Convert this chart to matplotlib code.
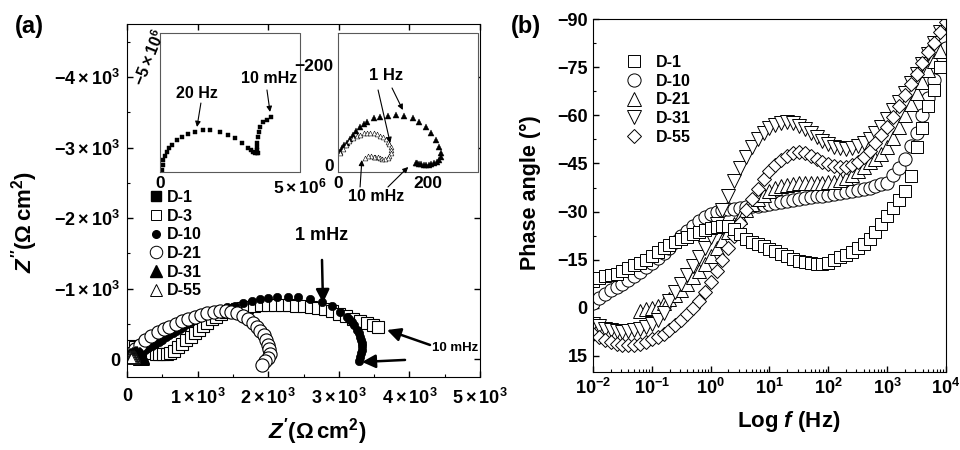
import numpy as np
import matplotlib
matplotlib.use('Agg')
import matplotlib.pyplot as plt
from matplotlib.lines import Line2D
from matplotlib.ticker import MultipleLocator, LogLocator, NullFormatter

plt.rcParams['font.family'] = ['Liberation Sans', 'DejaVu Sans']
plt.rcParams['font.weight'] = 'bold'
plt.rcParams['mathtext.fontset'] = 'custom'
plt.rcParams['mathtext.rm'] = 'Liberation Sans:weight=bold'
plt.rcParams['mathtext.bf'] = 'Liberation Sans:weight=bold'
plt.rcParams['mathtext.it'] = 'Liberation Sans:style=italic:weight=bold'
plt.rcParams['mathtext.default'] = 'rm'

# ---------------- panel (a): Nyquist data (Z', Z'' in ohm cm2) ----------------
d3_zr = [60, 110, 160, 210, 260, 310, 360, 410, 460, 510, 560, 610, 660,
         720, 780, 840, 900, 960, 1020, 1080, 1140, 1200, 1260, 1330, 1400,
         1480, 1560, 1640, 1700, 1800, 1900, 2000, 2100, 2200, 2300, 2400,
         2500, 2600, 2700, 2800, 2900, 3000, 3100, 3200, 3300, 3400, 3480, 3555]
d3_zi = [-190, -170, -150, -130, -115, -100, -90, -80, -75, -75, -80, -95, -120,
         -170, -220, -270, -320, -370, -420, -470, -520, -565, -605, -640, -670,
         -695, -712, -725, -745, -757, -763, -766, -767, -766, -764, -760,
         -754, -745, -733, -712, -680, -645, -610, -578, -545, -510, -480, -455]

d10_zr = [150, 200, 250, 300, 350, 400, 450, 500, 550, 600, 650, 700, 750, 800,
          850, 900, 950, 1000, 1050, 1100, 1160, 1230, 1300, 1416, 1530, 1643,
          1770, 1884, 1997, 2125, 2280, 2422, 2592, 2762, 2904, 3017, 3116,
          3150, 3187, 3220, 3258, 3280, 3300, 3315, 3329, 3335, 3329, 3320,
          3300, 3290]
d10_zi = [-60, -95, -130, -160, -190, -220, -250, -280, -310, -345, -375, -405,
          -435, -465, -495, -525, -560, -590, -625, -655, -680, -705, -720, -735,
          -760, -799, -827, -855, -872, -880, -884, -880, -855, -813, -756, -671,
          -601, -570, -530, -480, -416, -370, -317, -275, -232, -185, -133, -85,
          -34, 25]

d21_zr = [60, 120, 180, 255, 340, 439, 520, 600, 690, 780, 870, 960, 1050, 1140,
          1230, 1320, 1400, 1480, 1560, 1640, 1710, 1780, 1840, 1890, 1940, 1975,
          2000, 2015, 2020, 2000, 1960, 1910]
d21_zi = [-90, -150, -200, -270, -330, -385, -430, -465, -505, -540, -570, -598,
          -625, -650, -668, -680, -685, -675, -650, -615, -570, -520, -465, -405,
          -340, -275, -210, -145, -80, -20, 30, 75]

d31_zr = [4, 8, 13, 20, 27, 34, 41, 49, 57, 65, 79, 94, 110, 128, 146, 166, 180,
          196, 207, 218, 225, 229, 228, 225, 219, 213, 207, 202, 196, 191, 185,
          180, 176, 173]
d31_zi = [-26, -33, -39, -44, -52, -60, -68, -76, -81, -86, -94, -96, -98, -100,
          -98, -94, -86, -76, -64, -50, -36, -24, -16, -10, -6, -4, -2, 0, 0, 0,
          -1, -2, -3, -4]

d55_zr = [4, 10, 17, 25, 34, 42, 49, 57, 65, 72, 80, 87, 94, 101, 106, 110, 114,
          117, 118, 117, 114, 110, 104, 98, 94, 88, 82, 79, 73, 67, 61]
d55_zi = [-24, -32, -40, -47, -53, -57, -60, -63, -64, -64, -63, -61, -58, -55,
          -51, -46, -41, -36, -30, -24, -18, -14, -12, -12, -14, -15, -15, -16,
          -17, -17, -14]

# D-1 (inset, in 1e6 ohm cm2)
d1_zr = [0.07, 0.09, 0.11, 0.17, 0.25, 0.33, 0.43, 0.60, 0.78, 1.00, 1.25, 1.54,
         1.79, 2.14, 2.43, 2.68, 2.93, 3.14, 3.25, 3.32, 3.40, 3.46, 3.50, 3.48,
         3.46, 3.48, 3.50, 3.53, 3.57, 3.68, 3.82, 3.96]
d1_zi = [-0.07, -0.25, -0.43, -0.58, -0.72, -0.85, -0.97, -1.15, -1.26, -1.37,
         -1.44, -1.51, -1.51, -1.44, -1.33, -1.22, -1.04, -0.86, -0.78, -0.72,
         -0.69, -0.68, -0.68, -0.78, -0.90, -1.05, -1.26, -1.45, -1.62, -1.80,
         -1.87, -1.98]

# ---------------- panel (b): Bode phase data ----------------
log_f = [-2.0, -1.9, -1.8, -1.7, -1.6, -1.5, -1.4, -1.3, -1.2, -1.1,
         -1.0, -0.9, -0.8, -0.7, -0.6, -0.5, -0.4, -0.3, -0.2, -0.1,
         0.0, 0.1, 0.2, 0.3, 0.4, 0.5, 0.6, 0.7, 0.8, 0.9,
         1.0, 1.1, 1.2, 1.3, 1.4, 1.5, 1.6, 1.7, 1.8, 1.9,
         2.0, 2.1, 2.2, 2.3, 2.4, 2.5, 2.6, 2.7, 2.8, 2.9,
         3.0, 3.1, 3.2, 3.3, 3.4, 3.5, 3.6, 3.7, 3.8, 3.9, 4.0]

ph_d1 = [-8.5, -9.3, -9.8, -10.2, -10.7, -11.5, -12.4, -13.2, -14.0, -15.0,
         -16.2, -17.3, -18.5, -19.5, -20.4, -21.3, -22.2, -23.0, -23.7, -24.3,
         -25.0, -25.3, -25.6, -25.4, -24.5, -23.0, -21.6, -20.6, -19.8, -19.2,
         -18.4, -17.6, -16.8, -16.0, -15.3, -14.7, -14.2, -13.9, -13.7, -13.8,
         -14.1, -14.8, -15.7, -16.5, -17.5, -18.5, -20.0, -21.5, -23.5, -26.0,
         -28.5, -31.0, -33.5, -36.5, -41.0, -50.0, -56.0, -63.0, -68.0, -75.0]
ph_d10 = [-1.5, -3.0, -4.3, -5.5, -6.5, -7.5, -8.7, -10.0, -11.2, -12.6,
          -14.0, -15.5, -17.0, -18.8, -20.5, -22.3, -24.0, -25.5, -27.0, -28.3,
          -29.3, -30.0, -30.4, -30.7, -30.9, -31.1, -31.3, -31.6, -31.8, -32.1,
          -32.3, -32.6, -32.9, -33.2, -33.5, -33.8, -34.1, -34.4, -34.7, -35.0,
          -35.3, -35.6, -35.9, -36.2, -36.5, -36.8, -37.1, -37.5, -38.0, -38.5,
          -39.0, -41.5, -43.5, -46.5, -50.5, -54.5, -60.0, -65.5, -71.0, -77.0,
          -81.0]
ph_d21 = [1.0, 0.5, 0.0, -0.7, -1.5, -2.7, -4.0, -5.7, -7.5, -9.5,
          -11.5, -13.7, -16.0, -18.5, -21.0, -23.5, -26.0, -28.3, -30.5, -32.3,
          -34.0, -35.3, -36.5, -37.3, -38.0, -38.4, -38.7, -38.9, -39.0, -39.0,
          -39.0, -39.0, -39.1, -39.3, -39.7, -40.4, -41.4, -42.6, -44.0, -45.3,
          -46.5, -48.0, -50.0, -53.0, -56.5, -60.0, -63.5, -67.0, -70.5, -74.0,
          -77.0, -80.0]
ph_d31 = [5.0, 5.8, 6.5, 7.0, 7.3, 7.4, 7.3, 7.0, 6.6, 6.0,
          5.0, 3.8, 1.5, -2.0, -4.8, -7.5, -10.3, -13.0, -15.8, -18.8,
          -22.0, -26.0, -30.5, -35.0, -39.5, -43.5, -47.0, -50.0, -52.5, -54.5,
          -56.0, -57.0, -57.6, -57.8, -57.5, -56.8, -55.8, -54.6, -53.3, -52.0,
          -51.0, -50.2, -49.7, -49.5, -49.7, -50.3, -51.3, -52.7, -54.5, -56.5,
          -59.0, -61.5, -64.0, -67.0, -70.0, -73.0, -76.0, -79.0, -82.5, -86.0,
          -89.5]
ph_d55 = [8.0, 9.0, 10.0, 10.8, 11.3, 11.6, 11.7, 11.6, 11.2, 10.6,
          9.8, 9.0, 8.0, 6.8, 5.5, 3.8, 2.0, 0.0, -2.2, -4.8,
          -8.0, -11.5, -15.0, -18.5, -22.5, -26.5, -30.5, -34.0, -37.0, -40.0,
          -42.5, -44.5, -46.2, -47.4, -48.2, -48.5, -48.2, -47.4, -46.5, -45.6,
          -44.8, -44.2, -43.9, -44.0, -44.5, -45.5, -47.0, -49.0, -51.3, -53.8,
          -56.5, -59.5, -62.8, -66.2, -69.6, -73.0, -76.4, -79.6, -82.6, -86.0,
          -89.0]

f = 10 ** np.array(log_f)

fig = plt.figure(figsize=(9.6, 4.5), dpi=100)
ax_a = fig.add_axes([0.1323, 0.1622, 0.3677, 0.7844])
ax_b = fig.add_axes([0.6177, 0.1733, 0.3677, 0.7844])
in1 = fig.add_axes([0.1667, 0.6178, 0.1458, 0.3089])
in2 = fig.add_axes([0.3521, 0.6178, 0.1458, 0.3089])

# ---- main Nyquist ----
ax_a.plot(d3_zr, d3_zi, 's', ms=8.5, mfc='white', mec='k', mew=0.8)
ax_a.plot(d10_zr, d10_zi, 'o', ms=6, mfc='k', mec='k', mew=0.5)
ax_a.plot(d21_zr, d21_zi, 'o', ms=9.5, mfc='white', mec='k', mew=0.8)
ax_a.plot(d31_zr, d31_zi, '^', ms=8, mfc='k', mec='k', mew=0.5)
ax_a.plot(d55_zr, d55_zi, '^', ms=7, mfc='white', mec='k', mew=0.6)

ax_a.set_xlim(0, 5000)
ax_a.set_ylim(250, -4750)
ax_a.set_xticks([0, 1000, 2000, 3000, 4000, 5000])
ax_a.set_xticklabels(['0', r'$1\times10^{3}$', r'$2\times10^{3}$', r'$3\times10^{3}$',
                      r'$4\times10^{3}$', r'$5\times10^{3}$'], fontsize=13)
ax_a.set_yticks([-4000, -3000, -2000, -1000, 0])
ax_a.set_yticklabels([r'$-4\times10^{3}$', r'$-3\times10^{3}$', r'$-2\times10^{3}$',
                      r'$-1\times10^{3}$', '0'], fontsize=13)
ax_a.xaxis.set_minor_locator(MultipleLocator(500))
ax_a.yaxis.set_minor_locator(MultipleLocator(500))
ax_a.tick_params(which='both', direction='in', top=True, right=True)
ax_a.tick_params(which='major', length=4.5, width=1)
ax_a.tick_params(which='minor', length=2.5, width=0.8, top=False, right=False)
ax_a.tick_params(axis='x', pad=8)
ax_a.tick_params(axis='y', pad=5)

arr_big = dict(arrowstyle='-|>,head_length=0.5,head_width=0.25', color='k', lw=1.8,
               mutation_scale=16, shrinkA=0, shrinkB=0)
ax_a.text(2762, -1748, '1 mHz', ha='center', va='center', fontsize=13)
ax_a.annotate('', xy=(2776, -799), xytext=(2762, -1408), arrowprops=arr_big)
ax_a.text(4646, -161, '10 mHz', ha='center', va='center', fontsize=9.5)
ax_a.annotate('', xy=(3683, -416), xytext=(4292, -204), arrowprops=arr_big)
ax_a.annotate('', xy=(3329, 37), xytext=(3938, 8), arrowprops=arr_big)

leg_a = [Line2D([], [], marker='s', ls='none', ms=6.5, mfc='k', mec='k'),
         Line2D([], [], marker='s', ls='none', ms=7, mfc='white', mec='k', mew=0.7),
         Line2D([], [], marker='o', ls='none', ms=5.5, mfc='k', mec='k'),
         Line2D([], [], marker='o', ls='none', ms=9, mfc='white', mec='k', mew=0.7),
         Line2D([], [], marker='^', ls='none', ms=8.5, mfc='k', mec='k'),
         Line2D([], [], marker='^', ls='none', ms=8.5, mfc='white', mec='k', mew=0.7)]
ax_a.legend(leg_a, ['D-1', 'D-3', 'D-10', 'D-21', 'D-31', 'D-55'],
            loc='upper left', bbox_to_anchor=(148 / 960, 1 - 190 / 450),
            bbox_transform=fig.transFigure, frameon=False, fontsize=11.5,
            handlelength=1.0, handletextpad=0.2, labelspacing=0.23,
            borderpad=0, borderaxespad=0)

# ---- inset 1: D-1 ----
in1.plot(d1_zr, d1_zi, 's', ms=3.5, mfc='k', mec='k', mew=0.3)
in1.set_xlim(0, 5)
in1.set_ylim(0, -5)
in1.set_xticks([0, 5])
in1.set_xticklabels(['0', r'$5\times10^{6}$'], fontsize=12.5)
in1.set_yticks([])
in1.tick_params(length=0, pad=3)
in1.text(-0.08, 0.82, r'$-5\times10^{6}$', transform=in1.transAxes, rotation=68,
         ha='center', va='center', fontsize=11.5)
arr_small = dict(arrowstyle='-|>', color='k', lw=0.8, mutation_scale=8,
                 shrinkA=0, shrinkB=0)
in1.text(1.32, -2.84, '20 Hz', ha='center', va='center', fontsize=11.5)
in1.annotate('', xy=(1.32, -1.62), xytext=(1.46, -2.48), arrowprops=arr_small)
in1.text(3.91, -3.38, '10 mHz', ha='center', va='center', fontsize=11.5)
in1.annotate('', xy=(3.93, -2.16), xytext=(3.82, -2.95), arrowprops=arr_small)

# ---- inset 2: D-31 / D-55 ----
in2.plot(d31_zr, d31_zi, '^', ms=4.5, mfc='k', mec='k', mew=0.3)
in2.plot(d55_zr, d55_zi, '^', ms=3.5, mfc='white', mec='k', mew=0.4)
in2.set_xlim(0, 311)
in2.set_ylim(14, -264)
in2.set_xticks([0, 200])
in2.set_yticks([-200, 0])
in2.set_xticklabels(['0', '200'], fontsize=12.5)
in2.set_yticklabels(['\u2212200', '0'], fontsize=12.5)
in2.tick_params(length=0, pad=3)
in2.text(107, -178, '1 Hz', ha='center', va='center', fontsize=12)
in2.annotate('', xy=(116, -44), xytext=(89, -150), arrowprops=arr_small)
in2.annotate('', xy=(144, -110), xytext=(120, -154), arrowprops=arr_small)
in2.text(84, 64, '10 mHz', ha='center', va='center', fontsize=11.5)
in2.annotate('', xy=(53, -10), xytext=(49, 44), arrowprops=arr_small,
             annotation_clip=False)
in2.annotate('', xy=(156, 4), xytext=(111, 44), arrowprops=arr_small,
             annotation_clip=False)

for axi in (in1, in2):
    for sp in axi.spines.values():
        sp.set_linestyle((0, (1, 1)))
        sp.set_color('0.35')
        sp.set_linewidth(0.8)

# ---- panel (b) ----
ax_b.plot(f, ph_d10, 'o', ms=9.5, mfc='white', mec='k', mew=0.7)
ax_b.plot(f[8:60], ph_d21, '^', ms=9.5, mfc='white', mec='k', mew=0.7)
ax_b.plot(f, ph_d31, 'v', ms=9.5, mfc='white', mec='k', mew=0.7)
ax_b.plot(f, ph_d55, 'D', ms=7.5, mfc='white', mec='k', mew=0.7)
ax_b.plot(f[:60], ph_d1, 's', ms=9, mfc='white', mec='k', mew=0.7)

ax_b.set_xscale('log')
ax_b.set_xlim(1e-2, 1e4)
ax_b.set_ylim(20, -90)
ax_b.set_yticks([-90, -75, -60, -45, -30, -15, 0, 15])
ax_b.yaxis.set_minor_locator(MultipleLocator(7.5))
ax_b.xaxis.set_major_locator(LogLocator(base=10, numticks=10))
ax_b.xaxis.set_minor_locator(LogLocator(base=10, subs=np.arange(2, 10), numticks=20))
ax_b.xaxis.set_minor_formatter(NullFormatter())
ax_b.tick_params(which='both', direction='in')
ax_b.tick_params(which='major', length=4.5, width=1)
ax_b.tick_params(which='minor', length=2.5, width=0.8)
ax_b.tick_params(axis='y', labelsize=13, pad=4)
ax_b.tick_params(axis='x', labelsize=13, pad=4)

leg_b = [Line2D([], [], marker='s', ls='none', ms=9, mfc='white', mec='k', mew=0.7),
         Line2D([], [], marker='o', ls='none', ms=9.5, mfc='white', mec='k', mew=0.7),
         Line2D([], [], marker='^', ls='none', ms=9.5, mfc='white', mec='k', mew=0.7),
         Line2D([], [], marker='v', ls='none', ms=9.5, mfc='white', mec='k', mew=0.7),
         Line2D([], [], marker='D', ls='none', ms=7.5, mfc='white', mec='k', mew=0.7)]
ax_b.legend(leg_b, ['D-1', 'D-10', 'D-21', 'D-31', 'D-55'],
            loc='upper left', bbox_to_anchor=(626 / 960, 1 - 55 / 450),
            bbox_transform=fig.transFigure, frameon=False, fontsize=11.5,
            handlelength=1.0, handletextpad=0.85, labelspacing=0.23,
            borderpad=0, borderaxespad=0)

# ---- labels ----
fig.text(29 / 960, 1 - 27 / 450, '(a)', ha='center', va='center', fontsize=17)
fig.text(526 / 960, 1 - 27 / 450, '(b)', ha='center', va='center', fontsize=17)
fig.text(25 / 960, 1 - 222 / 450, r"$\mathit{Z}''(\Omega\,\mathrm{cm}^{2})$",
         rotation=90, ha='center', va='center', fontsize=16)
fig.text(317 / 960, 1 - 432 / 450, r"$\mathit{Z}'(\Omega\,\mathrm{cm}^{2})$",
         ha='center', va='center', fontsize=16)
fig.text(530 / 960, 1 - 193 / 450, 'Phase angle (\u00b0)', rotation=90,
         ha='center', va='center', fontsize=15.5)
fig.text(789 / 960, 1 - 422 / 450, r'Log $\mathit{f}$ (Hz)', ha='center',
         va='center', fontsize=16)

fig.savefig('out.png', dpi=100)
